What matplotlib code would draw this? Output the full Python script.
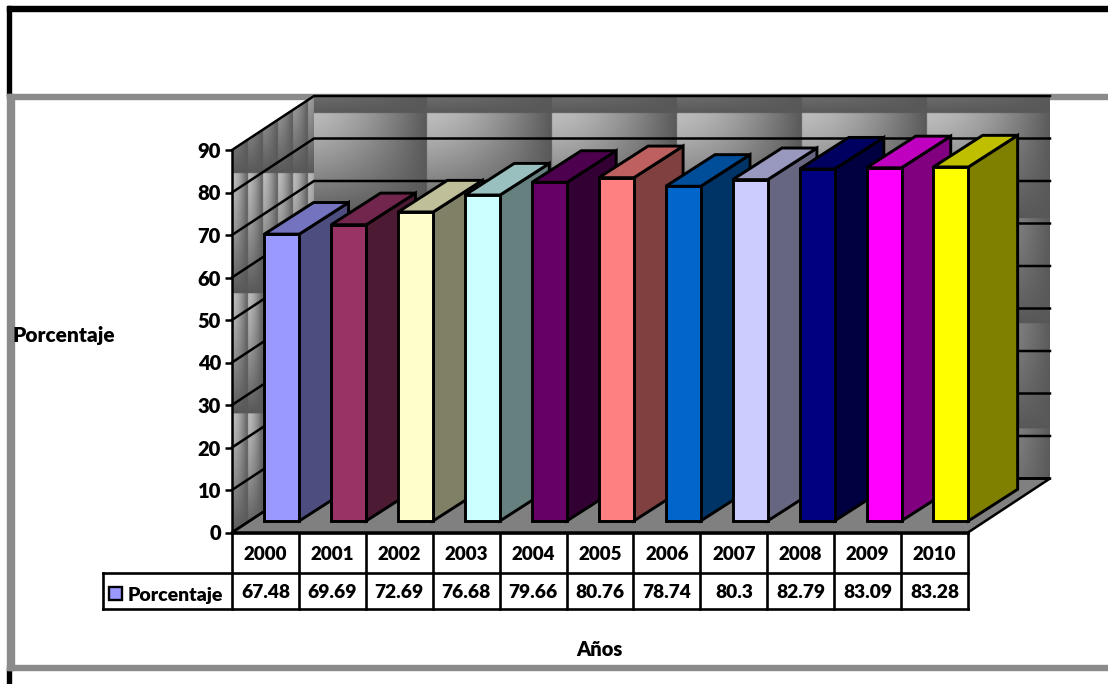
import numpy as np
import matplotlib
matplotlib.use("Agg")
import matplotlib.pyplot as plt
from matplotlib.patches import Polygon, Rectangle

# Series
years = ["2000", "2001", "2002", "2003", "2004", "2005", "2006", "2007", "2008", "2009", "2010"]
values = [67.48, 69.69, 72.69, 76.68, 79.66, 80.76, 78.74, 80.3, 82.79, 83.09, 83.28]
value_labels = ["67.48", "69.69", "72.69", "76.68", "79.66", "80.76", "78.74", "80.3", "82.79", "83.09", "83.28"]
y_ticks = [0, 10, 20, 30, 40, 50, 60, 70, 80, 90]
series_name = "Porcentaje"

# Per-bar colours: front, top and side faces
front_colors = ["#9999FF", "#993366", "#FFFFCC", "#CCFFFF", "#660066", "#FF8080",
                "#0066CC", "#CCCCFF", "#000080", "#FF00FF", "#FFFF00"]
top_colors = ["#7373BF", "#73264D", "#BFBF99", "#99BFBF", "#4D004D", "#BF6060",
              "#004D99", "#9999BF", "#000060", "#BF00BF", "#BFBF00"]
side_colors = ["#4D4D80", "#4D1A33", "#808066", "#668080", "#330033", "#804040",
               "#003366", "#666680", "#000040", "#800080", "#808000"]

W, H = 1108, 684
FONT = "Lato"
WEIGHT = "heavy"
BLACK_LW = 1.8

fig = plt.figure(figsize=(W / 100, H / 100), dpi=100, facecolor="white")

# Pixel-addressed layer for the frame, wall textures and the data table
bg = fig.add_axes([0, 0, 1, 1], zorder=0)
bg.axis("off")

# Plot-area geometry
X0, X1 = 232.0, 968.0
Y0, Y90 = 532.5, 150.0
DX, DY = 82.0, 54.0
CELL = (X1 - X0) / len(years)


def tile(u, v):
    """Brushed-metal shading: bright upper left, falling away to dark."""
    return (88 + 100 * (1 - u ** 1.6) * (1 - v ** 1.3)) / 255.0


def wall_image(x_start, x_end, y_start, y_end, origin_x, origin_y, period_x, period_y):
    xs = np.arange(x_start, x_end, 0.5)
    ys = np.arange(y_start, y_end, 0.5)
    uu, vv = np.meshgrid(((xs - origin_x) / period_x) % 1, ((ys - origin_y) / period_y) % 1)
    return tile(uu, vv)


# Back wall
back_img = wall_image(X0 + DX, X1 + DX, Y90 - DY, Y0 - DY, 427 - 125, 114 - 105, 125, 105)
bg.imshow(back_img, cmap="gray", vmin=0, vmax=1, aspect="auto", interpolation="bilinear",
          extent=(X0 + DX, X1 + DX, Y0 - DY, Y90 - DY), zorder=2)

# Side wall, clipped to its parallelogram
side_img = wall_image(X0, X0 + DX, Y90 - DY, Y0, 233, 174 - 120, 15, 120)
side_im = bg.imshow(side_img, cmap="gray", vmin=0, vmax=1, aspect="auto", interpolation="bilinear",
                    extent=(X0, X0 + DX, Y0, Y90 - DY), zorder=2)
side_clip = Polygon([(X0, Y90), (X0 + DX, Y90 - DY), (X0 + DX, Y0 - DY), (X0, Y0)],
                    transform=bg.transData, fill=False, edgecolor="none")
bg.add_patch(side_clip)
side_im.set_clip_path(side_clip)

# Outer frame
frame_gray = "#8b8b8b"
bg.add_patch(Rectangle((6.5, 6), W, 4.5, color="black", zorder=1))
bg.add_patch(Rectangle((6.5, 6), 4.5, 90, color="black", zorder=1))
bg.add_patch(Rectangle((6.5, 668), 4.5, 16, color="black", zorder=1))
bg.add_patch(Rectangle((7, 93.5), W, 5.5, color=frame_gray, zorder=1))
bg.add_patch(Rectangle((7, 93.5), 7, 576, color=frame_gray, zorder=1))
bg.add_patch(Rectangle((7, 665), W, 5, color=frame_gray, zorder=1))

# Data table
TY0, TY1, TY2 = 532.5, 572.5, 609.0
TBL_LW = 1.9
for i in range(len(years) + 1):
    x = X0 + i * CELL
    bg.plot([x, x], [TY0, TY2], color="black", lw=TBL_LW, zorder=3, solid_capstyle="projecting")
bg.plot([X0, X1], [TY0, TY0], color="black", lw=TBL_LW, zorder=3)
bg.plot([102.5, X1], [TY1, TY1], color="black", lw=TBL_LW, zorder=3, solid_capstyle="projecting")
bg.plot([102.5, X1], [TY2, TY2], color="black", lw=TBL_LW, zorder=3, solid_capstyle="projecting")
bg.plot([102.5, 102.5], [TY1, TY2], color="black", lw=TBL_LW, zorder=3, solid_capstyle="projecting")
for i, (yr, lab) in enumerate(zip(years, value_labels)):
    xc = X0 + (i + 0.5) * CELL
    bg.text(xc, 552.5, yr, ha="center", va="center_baseline", fontsize=13.5, fontweight=WEIGHT,
            family=FONT, color="black", zorder=4)
    bg.text(xc, 591.5, lab, ha="center", va="center_baseline", fontsize=13.8, fontweight=WEIGHT,
            family=FONT, color="black", zorder=4)
bg.add_patch(Rectangle((109, 586.5), 13, 13, facecolor=front_colors[0], edgecolor="black",
                       lw=1.7, zorder=4))
bg.text(127.5, 594, series_name, ha="left", va="center_baseline", fontsize=14, fontweight=WEIGHT,
        family=FONT, color="black", zorder=4)

# Axis titles
bg.text(12, 334, series_name, ha="left", va="center_baseline", fontsize=15, fontweight=WEIGHT,
        family=FONT, color="black", zorder=4)
bg.text(599, 648, "Años", ha="center", va="center_baseline", fontsize=14.5, fontweight=WEIGHT,
        family=FONT, color="black", zorder=4)

bg.set_xlim(0, W)
bg.set_ylim(H, 0)

# Value axes aligned with the front edge of the floor
ax = fig.add_axes([X0 / W, 1 - Y0 / H, (X1 - X0) / W, (Y0 - Y90) / H], zorder=1)
ax.patch.set_alpha(0)
ax.set_xlim(0, len(years))
ax.set_ylim(0, 90)
for name in ("top", "right", "bottom"):
    ax.spines[name].set_visible(False)
ax.spines["left"].set_linewidth(BLACK_LW)
ax.set_xticks([])
ax.set_yticks(y_ticks)
ax.tick_params(axis="y", length=5, width=BLACK_LW, pad=3, labelsize=14.5)
for t in ax.get_yticklabels():
    t.set_fontweight(WEIGHT)
    t.set_family(FONT)

# Depth offset of the box, in axis units
dx = DX / CELL
dy = DY * 90 / (Y0 - Y90)

# Floor
ax.add_patch(Polygon([(0, 0), (len(years), 0), (len(years) + dx, dy), (dx, dy)], closed=True,
                     facecolor="#808080", edgecolor="black", lw=BLACK_LW, clip_on=False, zorder=1))

# Gridlines along both walls
for tick in y_ticks:
    ax.plot([0, dx, len(years) + dx], [tick, tick + dy, tick + dy], color="black", lw=BLACK_LW,
            clip_on=False, zorder=2, solid_joinstyle="miter")

# Bars: front, side and top faces
BAR_W = 35.0 / CELL
D_NEAR, D_FAR = 0.215, 0.8
bar_kw = dict(closed=True, edgecolor="black", lw=2.1, clip_on=False, joinstyle="miter")
for i, v in enumerate(values):
    xl = i + (1 - BAR_W) / 2 + 0.2 * dx
    xr = xl + BAR_W
    yb = D_NEAR * dy
    yt = yb + v
    sx = (D_FAR - 0.2) * dx
    sy = (D_FAR - D_NEAR) * dy
    z = 3 + i
    ax.add_patch(Polygon([(xr, yb), (xr + sx, yb + sy), (xr + sx, yt + sy), (xr, yt)],
                         facecolor=side_colors[i], zorder=z, **bar_kw))
    ax.add_patch(Polygon([(xl, yt), (xr, yt), (xr + sx, yt + sy), (xl + sx, yt + sy)],
                         facecolor=top_colors[i], zorder=z, **bar_kw))
    ax.add_patch(Polygon([(xl, yb), (xr, yb), (xr, yt), (xl, yt)],
                         facecolor=front_colors[i], zorder=z, **bar_kw))

fig.savefig("out.png", dpi=100, facecolor="white")
